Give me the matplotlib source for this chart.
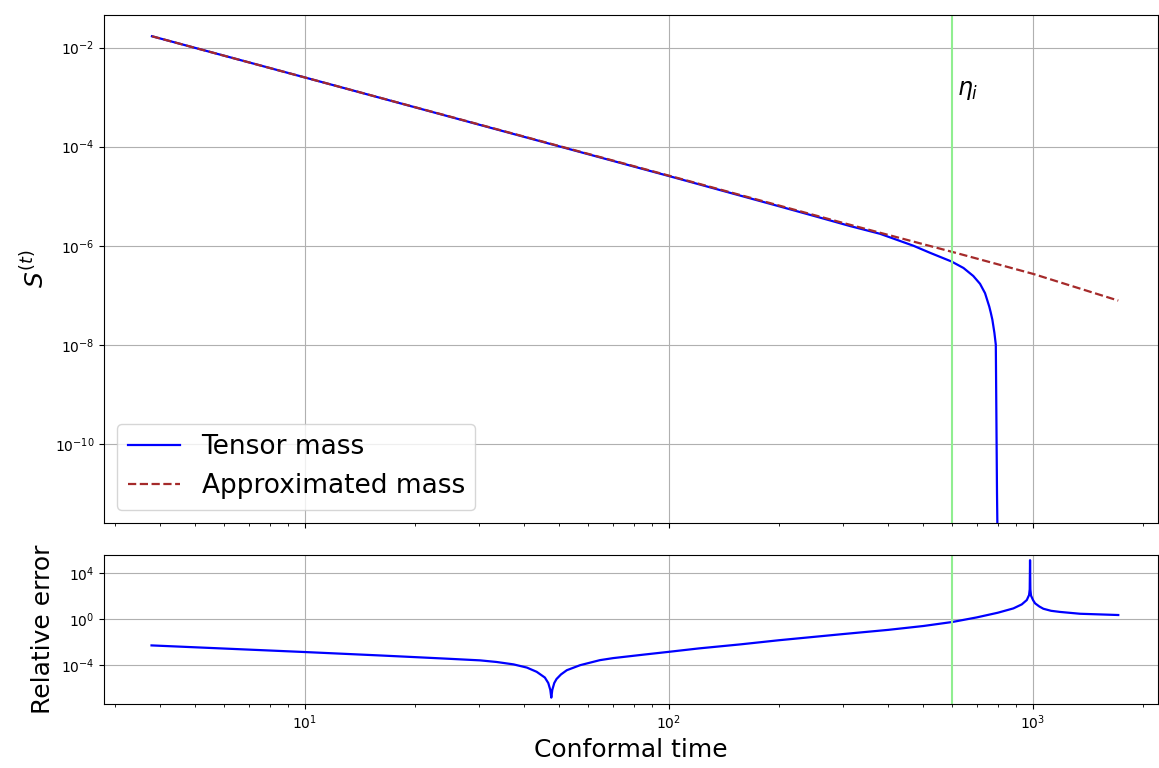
import matplotlib
matplotlib.use("Agg")
import matplotlib.pyplot as plt
import matplotlib.ticker as mticker
import numpy as np

ETA_I = 600

# conformal time samples
eta_mass = [3.8, 10, 30, 100, 200, 250, 314, 380, 422, 469, 521, 597, 644, 685, 715, 738,
            758, 765, 773, 783, 790, 794, 796, 799]
tensor_mass = [1.7e-2, 2.5e-3, 2.8e-4, 2.55e-5, 6.3e-6, 4.0e-6, 2.5e-6, 1.74e-6, 1.32e-6,
               1.0e-6, 7.2e-7, 4.8e-7, 3.55e-7, 2.45e-7, 1.7e-7, 1.1e-7, 5.9e-8, 4.5e-8,
               3.2e-8, 1.74e-8, 1e-8, 1e-10, 1e-11, 1e-12]

eta_approx = [3.8, 10, 100, 300, 600, 1000, 1714]
approx_mass = [1.7e-2, 2.5e-3, 2.6e-5, 2.9e-6, 7.5e-7, 2.7e-7, 7.8e-8]

# relative error (log10 values)
eta_err = [3.79, 10, 16.1, 19.9, 24.5, 30.3, 33.6, 37.4, 40.7, 43.3, 45.6, 46.6, 47.2, 47.5,
           47.8, 48.4, 49.1, 50.5, 52.4, 57, 64.6, 70.3, 85, 100, 121, 157, 200, 300, 400,
           500, 600, 700, 800, 883, 931, 961, 975, 979, 981, 983, 987, 1000, 1013, 1040,
           1067, 1120, 1186, 1346, 1714]
log_err = [-2.31, -2.89, -3.19, -3.33, -3.47, -3.62, -3.76, -3.97, -4.25, -4.62, -5.12, -5.6,
           -6.2, -6.88, -6.2, -5.6, -5.25, -4.85, -4.48, -4.04, -3.6, -3.42, -3.12, -2.87,
           -2.57, -2.22, -1.86, -1.32, -0.95, -0.61, -0.26, 0.14, 0.55, 0.93, 1.28, 1.66,
           2.1, 2.6, 5.15, 2.6, 2.05, 1.65, 1.37, 1.1, 0.9, 0.72, 0.62, 0.46, 0.35]


def main():
    fig = plt.figure(figsize=(11.59, 7.68), dpi=100)
    ax1 = fig.add_axes([0.0897, 0.319, 0.9094, 0.6615])
    ax2 = fig.add_axes([0.0897, 0.0833, 0.9094, 0.194], sharex=ax1)

    ax1.plot(eta_mass, tensor_mass, color="blue", lw=1.6, label="Tensor mass")
    ax1.plot(eta_approx, approx_mass, "--", color="brown", lw=1.6, label="Approximated mass")
    ax1.axvline(ETA_I, color="lightgreen", lw=1.5)
    ax1.text(618, 10 ** -2.85, r"$\eta_i$", fontsize=17, va="center")
    ax1.set_xscale("log")
    ax1.set_yscale("log")
    ax1.set_xlim(10 ** 0.448, 10 ** 3.343)
    ax1.set_ylim(10 ** -11.6, 10 ** -1.34)
    ax1.set_yticks([1e-2, 1e-4, 1e-6, 1e-8, 1e-10])
    ax1.yaxis.set_minor_locator(mticker.NullLocator())
    ax1.grid(True, which="major")
    ax1.set_ylabel(r"$S^{(t)}$", fontsize=18)
    ax1.legend(loc="lower left", fontsize=19)
    plt.setp(ax1.get_xticklabels(), visible=False)

    ax2.plot(eta_err, 10 ** np.array(log_err), color="blue", lw=1.6)
    ax2.axvline(ETA_I, color="lightgreen", lw=1.5)
    ax2.set_yscale("log")
    ax2.set_ylim(10 ** -7.44, 10 ** 5.6)
    ax2.set_yticks([1e4, 1e0, 1e-4])
    ax2.yaxis.set_minor_locator(mticker.NullLocator())
    ax2.grid(True, which="major")
    ax2.set_ylabel("Relative error", fontsize=18)
    ax2.set_xlabel("Conformal time", fontsize=18)

    fig.savefig("out.png", dpi=100)


if __name__ == "__main__":
    main()
